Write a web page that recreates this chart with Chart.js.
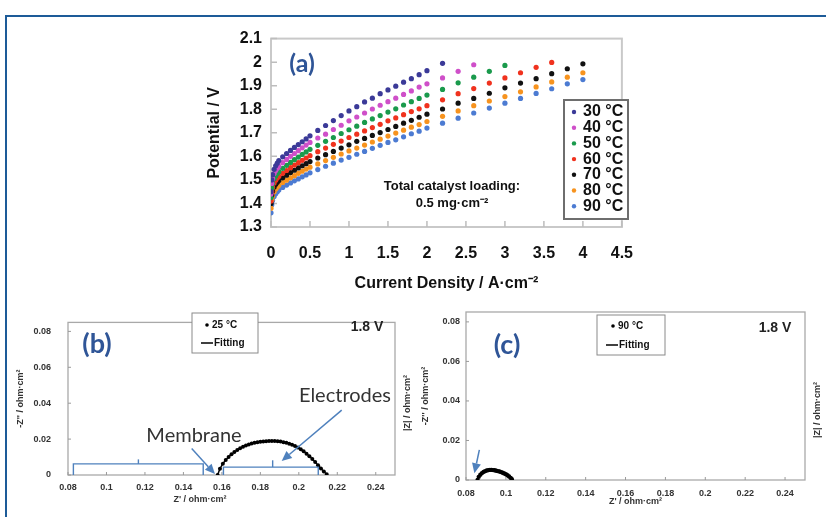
<!DOCTYPE html>
<html><head><meta charset="utf-8">
<script src="https://cdn.jsdelivr.net/npm/chart.js@4.4.0/dist/chart.umd.min.js"></script>
<style>
html,body{margin:0;padding:0;background:#fff;width:826px;height:517px;overflow:hidden;position:relative}
.frame{position:absolute;left:5px;top:15px;width:900px;height:600px;border-top:2px solid #1d5b98;border-left:2px solid #1d5b98}
canvas{position:absolute}
</style></head><body>
<div class="frame"></div>
<canvas id="ca" width="470" height="275" style="left:180px;top:20px"></canvas>
<canvas id="cb" width="413" height="217" style="left:0px;top:300px"></canvas>
<canvas id="cc" width="413" height="217" style="left:413px;top:300px"></canvas>
<script>
// ---------- Panel (a): polarization curves ----------
const xLow  = [0,0.01,0.02,0.04,0.06,0.08,0.1,0.15,0.2,0.25,0.3,0.35,0.4,0.45,0.5];
const xMid  = [0.6,0.7,0.8,0.9,1.0,1.1,1.2,1.3,1.4,1.5,1.6,1.7,1.8,1.9,2.0];
const xHigh = [2.2,2.4,2.6,2.8,3.0,3.2,3.4,3.6,3.8,4.0];
const currentDensity = xLow.concat(xMid, xHigh);

const tempLabels = ['30 °C','40 °C','50 °C','60 °C','70 °C','80 °C','90 °C'];
const tempColors = ['#3b3a98','#cf4fc9','#1a9a4c','#f0321e','#111111','#f7931e','#4c7bd2'];

const v30 = [1.450,1.500,1.522,1.545,1.560,1.571,1.582,1.598,1.612,1.625,1.638,1.650,1.662,1.674,1.687,
  1.710,1.731,1.752,1.773,1.793,1.811,1.831,1.847,1.866,1.882,1.898,1.915,1.930,1.947,1.964,
  1.995];
const v40 = [1.440,1.485,1.505,1.527,1.540,1.550,1.558,1.573,1.587,1.600,1.612,1.624,1.636,1.648,1.659,
  1.678,1.694,1.714,1.732,1.751,1.767,1.784,1.801,1.817,1.832,1.847,1.863,1.878,1.894,1.908,
  1.933,1.961,1.989];
const v50 = [1.425,1.465,1.485,1.505,1.517,1.527,1.535,1.549,1.562,1.574,1.586,1.597,1.608,1.619,1.630,
  1.647,1.664,1.680,1.697,1.713,1.728,1.744,1.759,1.773,1.788,1.802,1.818,1.832,1.846,1.860,
  1.884,1.912,1.936,1.961,1.986];
const v60 = [1.410,1.450,1.468,1.487,1.499,1.508,1.515,1.528,1.540,1.552,1.563,1.573,1.583,1.593,1.603,
  1.620,1.635,1.651,1.665,1.680,1.694,1.708,1.722,1.736,1.751,1.763,1.777,1.790,1.802,1.815,
  1.840,1.866,1.888,1.911,1.933,1.955,1.978,1.999];
const v70 = [1.400,1.435,1.452,1.470,1.481,1.490,1.497,1.509,1.520,1.531,1.541,1.551,1.560,1.569,1.578,
  1.593,1.607,1.621,1.635,1.649,1.664,1.676,1.689,1.701,1.714,1.727,1.741,1.753,1.766,1.779,
  1.801,1.826,1.846,1.868,1.891,1.911,1.930,1.951,1.972,1.993];
const v80 = [1.380,1.415,1.432,1.450,1.461,1.470,1.477,1.489,1.499,1.509,1.518,1.528,1.537,1.546,1.554,
  1.568,1.582,1.596,1.610,1.623,1.635,1.648,1.661,1.673,1.686,1.699,1.711,1.724,1.735,1.748,
  1.770,1.793,1.815,1.835,1.854,1.874,1.895,1.916,1.936,1.955];
const v90 = [1.360,1.395,1.412,1.430,1.441,1.450,1.457,1.468,1.478,1.487,1.496,1.504,1.513,1.521,1.530,
  1.544,1.558,1.571,1.584,1.596,1.609,1.621,1.634,1.647,1.659,1.670,1.683,1.696,1.707,1.720,
  1.741,1.762,1.784,1.805,1.826,1.846,1.867,1.887,1.908,1.926];
const seriesA = [v30,v40,v50,v60,v70,v80,v90];

const xTicksA = [0,0.5,1,1.5,2,2.5,3,3.5,4,4.5];
const yTicksA = [1.3,1.4,1.5,1.6,1.7,1.8,1.9,2.0,2.1];

// ---------- Panels (b) and (c): Nyquist plots ----------
const zReB = [0.1578,0.1590,0.1605,0.1620,0.1635,0.1650,0.1665,0.1680,0.1695,0.1710,0.1725,0.1740,0.1755,0.1770,
  0.1785,0.1800,0.1815,0.1830,0.1845,0.1860,0.1875,0.1890,0.1905,0.1920,0.1935,0.1950,0.1965,0.1980,
  0.1995,0.2010,0.2025,0.2040,0.2055,0.2070,0.2085,0.2100,0.2115,0.2130,0.2145];
const zImB = [0.0000,0.0035,0.0062,0.0083,0.0100,0.0115,0.0128,0.0139,0.0149,0.0157,0.0164,0.0170,0.0175,0.0179,
  0.0182,0.0185,0.0187,0.0188,0.0189,0.0189,0.0189,0.0188,0.0186,0.0183,0.0179,0.0174,0.0168,0.0161,
  0.0153,0.0143,0.0132,0.0119,0.0105,0.0089,0.0072,0.0054,0.0036,0.0019,0.0004];
const zReC = [0.0858,0.0864,0.0872,0.0880,0.0888,0.0896,0.0904,0.0912,0.0920,0.0928,0.0936,0.0944,0.0952,
  0.0960,0.0968,0.0976,0.0984,0.0992,0.1000,0.1008,0.1016,0.1024,0.1030];
const zImC = [0.0000,0.0016,0.0027,0.0035,0.0041,0.0045,0.0048,0.0050,0.0051,0.0051,0.0050,0.0049,0.0047,
  0.0045,0.0043,0.0040,0.0037,0.0033,0.0029,0.0024,0.0018,0.0011,0.0004];
const xTicksNyq = [0.08,0.1,0.12,0.14,0.16,0.18,0.2,0.22,0.24];
const yTicksNyq = [0,0.02,0.04,0.06,0.08];

// ---------- helpers ----------
const fmt = v => String(Number(Number(v).toFixed(3)));
const SANS = "'Liberation Sans', Arial, sans-serif";
Chart.defaults.font.family = SANS;

function drawText(ctx, t) {
  ctx.save();
  ctx.font = t.font; ctx.fillStyle = t.color || '#111';
  ctx.textAlign = t.align || 'center'; ctx.textBaseline = 'middle';
  ctx.translate(t.x, t.y);
  if (t.rotate) ctx.rotate(-Math.PI / 2);
  ctx.fillText(t.text, 0, 0);
  ctx.restore();
}

const decor = {
  id: 'decor',
  beforeDatasetsDraw(chart, args, o) {
    const ctx = chart.ctx, a = chart.chartArea, xs = chart.scales.x, ys = chart.scales.y;
    ctx.save();
    ctx.strokeStyle = o.frameColor; ctx.lineWidth = o.frameWidth;
    ctx.strokeRect(a.left, a.top, a.right - a.left, a.bottom - a.top);
    ctx.strokeStyle = o.tickColor; ctx.lineWidth = o.tickWidth;
    ctx.beginPath();
    xs.ticks.forEach(t => { const p = xs.getPixelForValue(t.value); ctx.moveTo(p, a.bottom); ctx.lineTo(p, a.bottom - o.tickLen); });
    ys.ticks.forEach(t => { const p = ys.getPixelForValue(t.value); ctx.moveTo(a.left, p); ctx.lineTo(a.left + o.tickLen, p); });
    ctx.stroke();
    ctx.restore();
  },
  afterDraw(chart, args, o) {
    const ctx = chart.ctx, xs = chart.scales.x, ys = chart.scales.y;
    const P = pt => [xs.getPixelForValue(pt[0]), ys.getPixelForValue(pt[1])];
    ctx.save();
    (o.paths || []).forEach(path => {
      ctx.strokeStyle = o.annColor; ctx.lineWidth = 1.4; ctx.beginPath();
      path.forEach((pt, i) => { const q = P(pt); i ? ctx.lineTo(q[0], q[1]) : ctx.moveTo(q[0], q[1]); });
      ctx.stroke();
    });
    (o.arrows || []).forEach(ar => {
      const p0 = P(ar[0]), p1 = P(ar[1]);
      const ang = Math.atan2(p1[1] - p0[1], p1[0] - p0[0]), L = 10, W = 4.5;
      const bx = p1[0] - L * Math.cos(ang), by = p1[1] - L * Math.sin(ang);
      ctx.strokeStyle = o.annColor; ctx.fillStyle = o.annColor; ctx.lineWidth = 1.5;
      ctx.beginPath(); ctx.moveTo(p0[0], p0[1]); ctx.lineTo(bx, by); ctx.stroke();
      ctx.beginPath(); ctx.moveTo(p1[0], p1[1]);
      ctx.lineTo(bx - W * Math.sin(ang), by + W * Math.cos(ang));
      ctx.lineTo(bx + W * Math.sin(ang), by - W * Math.cos(ang));
      ctx.closePath(); ctx.fill();
    });
    (o.dataTexts || []).forEach(t => { const q = P(t.at); drawText(ctx, Object.assign({}, t, {x: q[0], y: q[1]})); });
    (o.texts || []).forEach(t => drawText(ctx, t));
    if (o.legend) {
      const L = o.legend;
      ctx.fillStyle = '#fff';
      ctx.fillRect(L.box[0], L.box[1], L.box[2], L.box[3]);
      ctx.strokeStyle = L.boxColor; ctx.lineWidth = L.boxWidth;
      ctx.strokeRect(L.box[0], L.box[1], L.box[2], L.box[3]);
      L.rows.forEach(r => {
        const ds = chart.data.datasets[r.ds];
        if (r.kind === 'line') {
          ctx.strokeStyle = ds.borderColor; ctx.lineWidth = 1.5;
          ctx.beginPath(); ctx.moveTo(r.markX, r.y); ctx.lineTo(r.markX2, r.y); ctx.stroke();
        } else {
          ctx.fillStyle = ds.backgroundColor;
          ctx.beginPath(); ctx.arc(r.markX, r.y, L.dotR, 0, Math.PI * 2); ctx.fill();
        }
        drawText(ctx, {text: ds.label, x: r.textX, y: r.y, font: L.font, color: '#111', align: 'left'});
      });
    }
    ctx.restore();
  }
};

function fixedTicks(arr) { return s => { s.ticks = arr.map(v => ({value: v})); }; }

// ---------- Chart (a) ----------
new Chart(document.getElementById('ca'), {
  type: 'scatter',
  data: {
    datasets: seriesA.map((vals, i) => ({
      label: tempLabels[i],
      data: vals.map((v, k) => ({x: currentDensity[k], y: v})),
      backgroundColor: tempColors[i], borderColor: tempColors[i],
      borderWidth: 0, pointRadius: 2.6, pointHoverRadius: 2.6
    }))
  },
  options: {
    responsive: false, animation: false,
    layout: {padding: {left: 25, right: 21, top: 17, bottom: 2}},
    plugins: {
      legend: {display: false}, tooltip: {enabled: false},
      decor: {
        frameColor: '#c9c9c9', frameWidth: 2, tickColor: '#bdbdbd', tickWidth: 1.5, tickLen: 6,
        texts: [
          {text: '(a)', x: 122, y: 44, font: "bold 25px Lato, 'Open Sans', sans-serif", color: '#2f5597'},
          {text: 'Total catalyst loading:', x: 272, y: 166, font: 'bold 13px ' + SANS, color: '#111'},
          {text: '0.5 mg·cm⁻²', x: 272, y: 183, font: 'bold 13px ' + SANS, color: '#111'}
        ],
        legend: {
          box: [384, 80, 64, 119], boxColor: '#6e6e6e', boxWidth: 2, dotR: 2.2,
          font: 'bold 16px ' + SANS,
          rows: tempLabels.map((l, i) => ({ds: i, kind: 'dot', markX: 394, textX: 403, y: 92 + i * 15.7}))
        }
      }
    },
    scales: {
      x: {
        type: 'linear', min: 0, max: 4.5,
        afterBuildTicks: fixedTicks(xTicksA),
        afterFit: s => { s.height = 66; },
        grid: {display: false, drawTicks: false}, border: {display: false},
        ticks: {padding: 17, autoSkip: false, maxRotation: 0, color: '#111', font: {size: 16, weight: 'bold'}, callback: v => fmt(v)},
        title: {display: true, text: 'Current Density / A·cm⁻²', color: '#111', font: {size: 16, weight: 'bold'}, padding: 0}
      },
      y: {
        type: 'linear', min: 1.3, max: 2.1,
        afterBuildTicks: fixedTicks(yTicksA),
        afterFit: s => { s.width = 66; },
        grid: {display: false, drawTicks: false}, border: {display: false},
        ticks: {padding: 9, autoSkip: false, color: '#111', font: {size: 16, weight: 'bold'}, callback: v => fmt(v)},
        title: {display: true, text: 'Potential / V', color: '#111', font: {size: 16, weight: 'bold'}, padding: 0}
      }
    }
  },
  plugins: [decor]
});

// ---------- Nyquist charts ----------
function nyquist(id, xs, ys, label, opt) {
  const pts = xs.map((x, i) => ({x: x, y: ys[i]}));
  return new Chart(document.getElementById(id), {
    type: 'scatter',
    data: {
      datasets: [
        {label: 'Fitting', data: pts, showLine: true, borderColor: '#000', backgroundColor: '#000', borderWidth: 1.5, pointRadius: 0, tension: 0.3},
        {label: label, data: pts, borderColor: '#000', backgroundColor: '#000', borderWidth: 0, pointRadius: opt.r, pointHoverRadius: opt.r}
      ]
    },
    options: {
      responsive: false, animation: false,
      layout: {padding: opt.pad},
      plugins: {
        legend: {display: false}, tooltip: {enabled: false},
        decor: Object.assign({frameColor: '#a9a9a9', frameWidth: 1.3, tickColor: '#9a9a9a', tickWidth: 1, tickLen: 3, annColor: '#4f81bd'}, opt.decor)
      },
      scales: {
        x: {
          type: 'linear', min: 0.08, max: 0.25,
          afterBuildTicks: fixedTicks(xTicksNyq),
          afterFit: s => { s.height = opt.xh; },
          grid: {display: false, drawTicks: false}, border: {display: false},
          ticks: {padding: opt.xpad, autoSkip: false, maxRotation: 0, color: '#333', font: {size: 9, weight: 'bold'}, callback: v => fmt(v)},
          title: {display: opt.xTitle, text: "Z' / ohm·cm²", color: '#333', font: {size: 9, weight: 'bold'}, padding: 0}
        },
        y: {
          type: 'linear', min: 0, max: 0.085,
          afterBuildTicks: fixedTicks(yTicksNyq),
          afterFit: s => { s.width = opt.yw; },
          grid: {display: false, drawTicks: false}, border: {display: false},
          ticks: {padding: opt.ypad, autoSkip: false, color: '#333', font: {size: 9, weight: 'bold'}, callback: v => fmt(v)},
          title: {display: true, text: "-Z'' / ohm·cm²", color: '#333', font: {size: 9, weight: 'bold'}, padding: 0}
        }
      }
    },
    plugins: [decor]
  });
}

const labelFont = "bold 27px Lato, 'Open Sans', sans-serif";
const smallBold = 'bold 10px ' + SANS;

nyquist('cb', zReB, zImB, '25 °C', {
  r: 2, pad: {left: 15, right: 18, top: 12, bottom: 12}, xh: 30, yw: 53, xpad: 7, ypad: 17, xTitle: false,
  decor: {
    texts: [
      {text: '(b)', x: 97, y: 44, font: labelFont, color: '#2f5597'},
      {text: '1.8 V', x: 367, y: 27, font: 'bold 14px ' + SANS, color: '#222'},
      {text: "Z' / ohm·cm²", x: 200, y: 200, font: 'bold 9px ' + SANS, color: '#333'},
      {text: '|Z| / ohm·cm²', x: 408, y: 103, font: 'bold 9px ' + SANS, color: '#333', rotate: true}
    ],
    dataTexts: [
      {text: 'Membrane', at: [0.1455, 0.0219], font: "20px Lato, 'Open Sans', sans-serif", color: '#333'},
      {text: 'Electrodes', at: [0.2240, 0.0440], font: "20px Lato, 'Open Sans', sans-serif", color: '#333'}
    ],
    paths: [
      [[0.0828, 0], [0.0828, 0.0062], [0.1503, 0.0062], [0.1503, 0]],
      [[0.1166, 0.0062], [0.1166, 0.0087]],
      [[0.1608, 0], [0.1608, 0.0044], [0.2101, 0.0044], [0.2101, 0]],
      [[0.1864, 0.0044], [0.1864, 0.0082]]
    ],
    arrows: [
      [[0.1443, 0.0148], [0.1564, 0.0005]],
      [[0.2223, 0.0361], [0.1911, 0.0078]]
    ],
    legend: {
      box: [192, 13, 66, 40], boxColor: '#8a8a8a', boxWidth: 1, dotR: 1.8, font: smallBold,
      rows: [
        {ds: 1, kind: 'dot', markX: 207, textX: 212, y: 25},
        {ds: 0, kind: 'line', markX: 201, markX2: 213, textX: 214, y: 43}
      ]
    }
  }
});

nyquist('cc', zReC, zImC, '90 °C', {
  r: 2.2, pad: {left: 7, right: 21, top: 12, bottom: 10}, xh: 27, yw: 46, xpad: 8, ypad: 6, xTitle: true,
  decor: {
    texts: [
      {text: '(c)', x: 94, y: 45, font: labelFont, color: '#2f5597'},
      {text: '1.8 V', x: 362, y: 28, font: 'bold 14px ' + SANS, color: '#222'},
      {text: '|Z| / ohm·cm²', x: 405, y: 110, font: 'bold 9px ' + SANS, color: '#333', rotate: true}
    ],
    arrows: [
      [[0.0867, 0.0152], [0.0842, 0.0034]]
    ],
    legend: {
      box: [184, 15, 68, 40], boxColor: '#8a8a8a', boxWidth: 1, dotR: 1.8, font: smallBold,
      rows: [
        {ds: 1, kind: 'dot', markX: 200, textX: 205, y: 26},
        {ds: 0, kind: 'line', markX: 193, markX2: 205, textX: 206, y: 45}
      ]
    }
  }
});
</script>
</body></html>
